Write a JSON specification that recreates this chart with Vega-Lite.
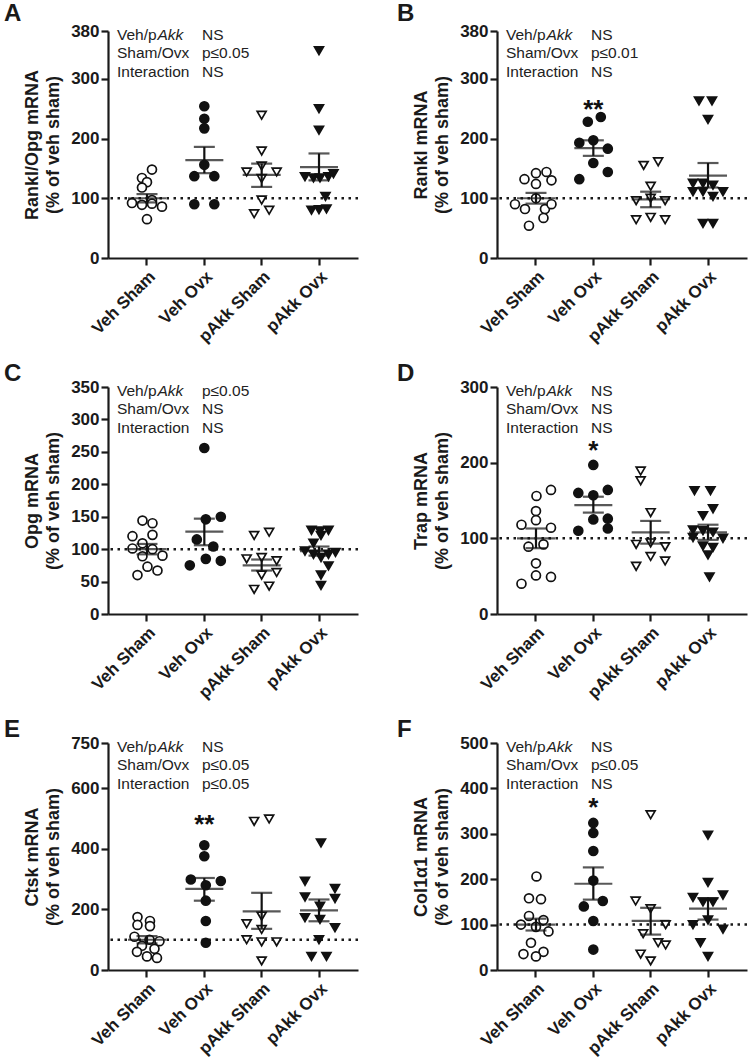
{
"$schema":"https://vega.github.io/schema/vega-lite/v6.json",
"background":"white",
"padding":{"left":4,"top":2,"right":0,"bottom":0},
"datasets":{
"pts":[
{"panel":"A","group":"Veh Sham","value":148,"swarm":1},{"panel":"A","group":"Veh Sham","value":134,"swarm":-1},{"panel":"A","group":"Veh Sham","value":127,"swarm":0},{"panel":"A","group":"Veh Sham","value":118,"swarm":-1},{"panel":"A","group":"Veh Sham","value":97,"swarm":1},{"panel":"A","group":"Veh Sham","value":92,"swarm":-3},{"panel":"A","group":"Veh Sham","value":89,"swarm":-1},{"panel":"A","group":"Veh Sham","value":91,"swarm":1},{"panel":"A","group":"Veh Sham","value":86,"swarm":3},{"panel":"A","group":"Veh Sham","value":65,"swarm":0},
{"panel":"A","group":"Veh Ovx","value":254,"swarm":0},{"panel":"A","group":"Veh Ovx","value":233,"swarm":0},{"panel":"A","group":"Veh Ovx","value":217,"swarm":0},{"panel":"A","group":"Veh Ovx","value":156,"swarm":0},{"panel":"A","group":"Veh Ovx","value":137,"swarm":-2},{"panel":"A","group":"Veh Ovx","value":137,"swarm":2},{"panel":"A","group":"Veh Ovx","value":90,"swarm":-2},{"panel":"A","group":"Veh Ovx","value":90,"swarm":2},
{"panel":"A","group":"pAkk Sham","value":239,"swarm":0},{"panel":"A","group":"pAkk Sham","value":179,"swarm":0},{"panel":"A","group":"pAkk Sham","value":154,"swarm":0},{"panel":"A","group":"pAkk Sham","value":144,"swarm":-3},{"panel":"A","group":"pAkk Sham","value":144,"swarm":3},{"panel":"A","group":"pAkk Sham","value":133,"swarm":0},{"panel":"A","group":"pAkk Sham","value":97,"swarm":0},{"panel":"A","group":"pAkk Sham","value":74,"swarm":-1.5},{"panel":"A","group":"pAkk Sham","value":80,"swarm":1.5},
{"panel":"A","group":"pAkk Ovx","value":347,"swarm":0},{"panel":"A","group":"pAkk Ovx","value":250,"swarm":0},{"panel":"A","group":"pAkk Ovx","value":214,"swarm":0},{"panel":"A","group":"pAkk Ovx","value":136,"swarm":-2.8},{"panel":"A","group":"pAkk Ovx","value":134,"swarm":-1.1},{"panel":"A","group":"pAkk Ovx","value":134,"swarm":0.2},{"panel":"A","group":"pAkk Ovx","value":136,"swarm":1.9},{"panel":"A","group":"pAkk Ovx","value":141,"swarm":2.9},{"panel":"A","group":"pAkk Ovx","value":103,"swarm":1.3},{"panel":"A","group":"pAkk Ovx","value":80,"swarm":-1.5},{"panel":"A","group":"pAkk Ovx","value":81,"swarm":0},{"panel":"A","group":"pAkk Ovx","value":82,"swarm":1.5},
{"panel":"B","group":"Veh Sham","value":132,"swarm":-2.3},{"panel":"B","group":"Veh Sham","value":142,"swarm":0},{"panel":"B","group":"Veh Sham","value":144,"swarm":2.1},{"panel":"B","group":"Veh Sham","value":130,"swarm":3.1},{"panel":"B","group":"Veh Sham","value":124,"swarm":0},{"panel":"B","group":"Veh Sham","value":90,"swarm":-4.2},{"panel":"B","group":"Veh Sham","value":82,"swarm":-2.2},{"panel":"B","group":"Veh Sham","value":100,"swarm":0},{"panel":"B","group":"Veh Sham","value":82,"swarm":1.8},{"panel":"B","group":"Veh Sham","value":90,"swarm":3.1},{"panel":"B","group":"Veh Sham","value":67,"swarm":1.5},{"panel":"B","group":"Veh Sham","value":54,"swarm":-1.4},
{"panel":"B","group":"Veh Ovx","value":228,"swarm":-1.1},{"panel":"B","group":"Veh Ovx","value":236,"swarm":1.5},{"panel":"B","group":"Veh Ovx","value":193,"swarm":-2.8},{"panel":"B","group":"Veh Ovx","value":197,"swarm":0},{"panel":"B","group":"Veh Ovx","value":183,"swarm":2.9},{"panel":"B","group":"Veh Ovx","value":159,"swarm":0},{"panel":"B","group":"Veh Ovx","value":144,"swarm":2.9},{"panel":"B","group":"Veh Ovx","value":132,"swarm":-2.8},
{"panel":"B","group":"pAkk Sham","value":155,"swarm":-1.4},{"panel":"B","group":"pAkk Sham","value":161,"swarm":1.5},{"panel":"B","group":"pAkk Sham","value":120,"swarm":0},{"panel":"B","group":"pAkk Sham","value":96,"swarm":-2.9},{"panel":"B","group":"pAkk Sham","value":100,"swarm":0},{"panel":"B","group":"pAkk Sham","value":96,"swarm":2.9},{"panel":"B","group":"pAkk Sham","value":64,"swarm":-2.9},{"panel":"B","group":"pAkk Sham","value":68,"swarm":0},{"panel":"B","group":"pAkk Sham","value":64,"swarm":2.9},
{"panel":"B","group":"pAkk Ovx","value":263,"swarm":-1.8},{"panel":"B","group":"pAkk Ovx","value":263,"swarm":0.8},{"panel":"B","group":"pAkk Ovx","value":232,"swarm":0},{"panel":"B","group":"pAkk Ovx","value":125,"swarm":-3},{"panel":"B","group":"pAkk Ovx","value":125,"swarm":-1},{"panel":"B","group":"pAkk Ovx","value":122,"swarm":1},{"panel":"B","group":"pAkk Ovx","value":111,"swarm":-3},{"panel":"B","group":"pAkk Ovx","value":111,"swarm":-1},{"panel":"B","group":"pAkk Ovx","value":103,"swarm":1},{"panel":"B","group":"pAkk Ovx","value":111,"swarm":3},{"panel":"B","group":"pAkk Ovx","value":58,"swarm":-1},{"panel":"B","group":"pAkk Ovx","value":58,"swarm":1},
{"panel":"C","group":"Veh Sham","value":144,"swarm":-0.9},{"panel":"C","group":"Veh Sham","value":140,"swarm":1.1},{"panel":"C","group":"Veh Sham","value":120,"swarm":-2.9},{"panel":"C","group":"Veh Sham","value":122,"swarm":1.1},{"panel":"C","group":"Veh Sham","value":109,"swarm":-0.9},{"panel":"C","group":"Veh Sham","value":101,"swarm":-2.9},{"panel":"C","group":"Veh Sham","value":100,"swarm":1.1},{"panel":"C","group":"Veh Sham","value":89,"swarm":-0.9},{"panel":"C","group":"Veh Sham","value":90,"swarm":3.1},{"panel":"C","group":"Veh Sham","value":73,"swarm":0.1},{"panel":"C","group":"Veh Sham","value":67,"swarm":2.1},{"panel":"C","group":"Veh Sham","value":60,"swarm":-1.9},
{"panel":"C","group":"Veh Ovx","value":256,"swarm":0},{"panel":"C","group":"Veh Ovx","value":146,"swarm":0.3},{"panel":"C","group":"Veh Ovx","value":150,"swarm":3.3},{"panel":"C","group":"Veh Ovx","value":115,"swarm":-1.5},{"panel":"C","group":"Veh Ovx","value":104,"swarm":1.8},{"panel":"C","group":"Veh Ovx","value":75,"swarm":-2.9},{"panel":"C","group":"Veh Ovx","value":85,"swarm":0.3},{"panel":"C","group":"Veh Ovx","value":82,"swarm":3.3},
{"panel":"C","group":"pAkk Sham","value":121,"swarm":-1.5},{"panel":"C","group":"pAkk Sham","value":126,"swarm":1.5},{"panel":"C","group":"pAkk Sham","value":85,"swarm":-3},{"panel":"C","group":"pAkk Sham","value":87,"swarm":0},{"panel":"C","group":"pAkk Sham","value":82,"swarm":3},{"panel":"C","group":"pAkk Sham","value":60,"swarm":0},{"panel":"C","group":"pAkk Sham","value":64,"swarm":3},{"panel":"C","group":"pAkk Sham","value":38,"swarm":-1.5},{"panel":"C","group":"pAkk Sham","value":43,"swarm":1.5},
{"panel":"C","group":"pAkk Ovx","value":129,"swarm":-1.5},{"panel":"C","group":"pAkk Ovx","value":128,"swarm":0.2},{"panel":"C","group":"pAkk Ovx","value":129,"swarm":1.9},{"panel":"C","group":"pAkk Ovx","value":109,"swarm":-1.1},{"panel":"C","group":"pAkk Ovx","value":121,"swarm":0.4},{"panel":"C","group":"pAkk Ovx","value":97,"swarm":-2.8},{"panel":"C","group":"pAkk Ovx","value":92,"swarm":-1.1},{"panel":"C","group":"pAkk Ovx","value":87,"swarm":0.4},{"panel":"C","group":"pAkk Ovx","value":92,"swarm":1.9},{"panel":"C","group":"pAkk Ovx","value":95,"swarm":3.3},{"panel":"C","group":"pAkk Ovx","value":74,"swarm":1.9},{"panel":"C","group":"pAkk Ovx","value":60,"swarm":0.4},{"panel":"C","group":"pAkk Ovx","value":44,"swarm":0.4},
{"panel":"D","group":"Veh Sham","value":164,"swarm":3},{"panel":"D","group":"Veh Sham","value":156,"swarm":0.1},{"panel":"D","group":"Veh Sham","value":136,"swarm":0},{"panel":"D","group":"Veh Sham","value":124,"swarm":0},{"panel":"D","group":"Veh Sham","value":118,"swarm":-2.9},{"panel":"D","group":"Veh Sham","value":114,"swarm":3},{"panel":"D","group":"Veh Sham","value":89,"swarm":-1.5},{"panel":"D","group":"Veh Sham","value":92,"swarm":1.5},{"panel":"D","group":"Veh Sham","value":67,"swarm":0},{"panel":"D","group":"Veh Sham","value":40,"swarm":-2.9},{"panel":"D","group":"Veh Sham","value":51,"swarm":0},{"panel":"D","group":"Veh Sham","value":49,"swarm":3},
{"panel":"D","group":"Veh Ovx","value":197,"swarm":0},{"panel":"D","group":"Veh Ovx","value":160,"swarm":-3},{"panel":"D","group":"Veh Ovx","value":157,"swarm":0},{"panel":"D","group":"Veh Ovx","value":164,"swarm":2.9},{"panel":"D","group":"Veh Ovx","value":125,"swarm":0},{"panel":"D","group":"Veh Ovx","value":126,"swarm":2.9},{"panel":"D","group":"Veh Ovx","value":110,"swarm":-3},{"panel":"D","group":"Veh Ovx","value":113,"swarm":2.9},
{"panel":"D","group":"pAkk Sham","value":189,"swarm":-2},{"panel":"D","group":"pAkk Sham","value":176,"swarm":-2},{"panel":"D","group":"pAkk Sham","value":134,"swarm":0},{"panel":"D","group":"pAkk Sham","value":92,"swarm":-2.9},{"panel":"D","group":"pAkk Sham","value":94,"swarm":0},{"panel":"D","group":"pAkk Sham","value":89,"swarm":2.9},{"panel":"D","group":"pAkk Sham","value":76,"swarm":0},{"panel":"D","group":"pAkk Sham","value":63,"swarm":-2.9},{"panel":"D","group":"pAkk Sham","value":70,"swarm":2.9},
{"panel":"D","group":"pAkk Ovx","value":163,"swarm":-2.7},{"panel":"D","group":"pAkk Ovx","value":163,"swarm":0.5},{"panel":"D","group":"pAkk Ovx","value":139,"swarm":1},{"panel":"D","group":"pAkk Ovx","value":130,"swarm":-1},{"panel":"D","group":"pAkk Ovx","value":111,"swarm":-3},{"panel":"D","group":"pAkk Ovx","value":110,"swarm":-1},{"panel":"D","group":"pAkk Ovx","value":108,"swarm":1},{"panel":"D","group":"pAkk Ovx","value":100,"swarm":3},{"panel":"D","group":"pAkk Ovx","value":101,"swarm":-3},{"panel":"D","group":"pAkk Ovx","value":90,"swarm":-1},{"panel":"D","group":"pAkk Ovx","value":88,"swarm":1},{"panel":"D","group":"pAkk Ovx","value":78,"swarm":0},{"panel":"D","group":"pAkk Ovx","value":49,"swarm":0.3},
{"panel":"E","group":"Veh Sham","value":175,"swarm":-1.9},{"panel":"E","group":"Veh Sham","value":162,"swarm":0.6},{"panel":"E","group":"Veh Sham","value":149,"swarm":-1.9},{"panel":"E","group":"Veh Sham","value":145,"swarm":0.6},{"panel":"E","group":"Veh Sham","value":110,"swarm":-2.5},{"panel":"E","group":"Veh Sham","value":100,"swarm":0.5},{"panel":"E","group":"Veh Sham","value":95,"swarm":2.5},{"panel":"E","group":"Veh Sham","value":80,"swarm":-1},{"panel":"E","group":"Veh Sham","value":70,"swarm":1.5},{"panel":"E","group":"Veh Sham","value":60,"swarm":-2},{"panel":"E","group":"Veh Sham","value":45,"swarm":0},{"panel":"E","group":"Veh Sham","value":40,"swarm":2},
{"panel":"E","group":"Veh Ovx","value":412,"swarm":0},{"panel":"E","group":"Veh Ovx","value":376,"swarm":0},{"panel":"E","group":"Veh Ovx","value":299,"swarm":-2.7},{"panel":"E","group":"Veh Ovx","value":294,"swarm":3.3},{"panel":"E","group":"Veh Ovx","value":280,"swarm":0.3},{"panel":"E","group":"Veh Ovx","value":229,"swarm":0.3},{"panel":"E","group":"Veh Ovx","value":162,"swarm":0.3},{"panel":"E","group":"Veh Ovx","value":90,"swarm":0.3},
{"panel":"E","group":"pAkk Sham","value":491,"swarm":-1.5},{"panel":"E","group":"pAkk Sham","value":499,"swarm":1.5},{"panel":"E","group":"pAkk Sham","value":178,"swarm":0},{"panel":"E","group":"pAkk Sham","value":153,"swarm":-3},{"panel":"E","group":"pAkk Sham","value":134,"swarm":0},{"panel":"E","group":"pAkk Sham","value":100,"swarm":-3},{"panel":"E","group":"pAkk Sham","value":93,"swarm":0},{"panel":"E","group":"pAkk Sham","value":93,"swarm":3},{"panel":"E","group":"pAkk Sham","value":30,"swarm":0},
{"panel":"E","group":"pAkk Ovx","value":420,"swarm":0.4},{"panel":"E","group":"pAkk Ovx","value":293,"swarm":-2.8},{"panel":"E","group":"pAkk Ovx","value":269,"swarm":3.2},{"panel":"E","group":"pAkk Ovx","value":241,"swarm":-2.8},{"panel":"E","group":"pAkk Ovx","value":236,"swarm":3.2},{"panel":"E","group":"pAkk Ovx","value":211,"swarm":0.2},{"panel":"E","group":"pAkk Ovx","value":173,"swarm":-2.8},{"panel":"E","group":"pAkk Ovx","value":167,"swarm":0.2},{"panel":"E","group":"pAkk Ovx","value":140,"swarm":3.2},{"panel":"E","group":"pAkk Ovx","value":100,"swarm":0},{"panel":"E","group":"pAkk Ovx","value":45,"swarm":-1.5},{"panel":"E","group":"pAkk Ovx","value":45,"swarm":1.5},
{"panel":"F","group":"Veh Sham","value":206,"swarm":0.1},{"panel":"F","group":"Veh Sham","value":158,"swarm":-1.4},{"panel":"F","group":"Veh Sham","value":156,"swarm":1},{"panel":"F","group":"Veh Sham","value":119,"swarm":-1.4},{"panel":"F","group":"Veh Sham","value":110,"swarm":1.5},{"panel":"F","group":"Veh Sham","value":100,"swarm":-3},{"panel":"F","group":"Veh Sham","value":95,"swarm":0},{"panel":"F","group":"Veh Sham","value":85,"swarm":2.5},{"panel":"F","group":"Veh Sham","value":60,"swarm":-1},{"panel":"F","group":"Veh Sham","value":40,"swarm":1.5},{"panel":"F","group":"Veh Sham","value":35,"swarm":-2.5},{"panel":"F","group":"Veh Sham","value":30,"swarm":0},
{"panel":"F","group":"Veh Ovx","value":324,"swarm":0},{"panel":"F","group":"Veh Ovx","value":302,"swarm":0},{"panel":"F","group":"Veh Ovx","value":262,"swarm":0},{"panel":"F","group":"Veh Ovx","value":197,"swarm":0},{"panel":"F","group":"Veh Ovx","value":152,"swarm":1.9},{"panel":"F","group":"Veh Ovx","value":140,"swarm":-1.9},{"panel":"F","group":"Veh Ovx","value":108,"swarm":0},{"panel":"F","group":"Veh Ovx","value":45,"swarm":0},
{"panel":"F","group":"pAkk Sham","value":342,"swarm":0},{"panel":"F","group":"pAkk Sham","value":152,"swarm":-3},{"panel":"F","group":"pAkk Sham","value":135,"swarm":0},{"panel":"F","group":"pAkk Sham","value":100,"swarm":3},{"panel":"F","group":"pAkk Sham","value":80,"swarm":-1.5},{"panel":"F","group":"pAkk Sham","value":60,"swarm":1.5},{"panel":"F","group":"pAkk Sham","value":55,"swarm":3},{"panel":"F","group":"pAkk Sham","value":35,"swarm":-2},{"panel":"F","group":"pAkk Sham","value":20,"swarm":0},
{"panel":"F","group":"pAkk Ovx","value":297,"swarm":0},{"panel":"F","group":"pAkk Ovx","value":193,"swarm":0},{"panel":"F","group":"pAkk Ovx","value":165,"swarm":3},{"panel":"F","group":"pAkk Ovx","value":160,"swarm":-3},{"panel":"F","group":"pAkk Ovx","value":150,"swarm":-1},{"panel":"F","group":"pAkk Ovx","value":150,"swarm":1},{"panel":"F","group":"pAkk Ovx","value":110,"swarm":0},{"panel":"F","group":"pAkk Ovx","value":100,"swarm":-3},{"panel":"F","group":"pAkk Ovx","value":90,"swarm":3},{"panel":"F","group":"pAkk Ovx","value":60,"swarm":-1.5},{"panel":"F","group":"pAkk Ovx","value":30,"swarm":0}
],
"summ":[
{"panel":"A","group":"Veh Sham","mean":100,"lo":93,"hi":107},{"panel":"A","group":"Veh Ovx","mean":164,"lo":142,"hi":186},{"panel":"A","group":"pAkk Sham","mean":139,"lo":119,"hi":158},{"panel":"A","group":"pAkk Ovx","mean":152,"lo":130,"hi":175},
{"panel":"B","group":"Veh Sham","mean":100,"lo":91,"hi":109},{"panel":"B","group":"Veh Ovx","mean":184,"lo":171,"hi":197},{"panel":"B","group":"pAkk Sham","mean":98,"lo":85,"hi":111},{"panel":"B","group":"pAkk Ovx","mean":138,"lo":118,"hi":159},
{"panel":"C","group":"Veh Sham","mean":100,"lo":92,"hi":108},{"panel":"C","group":"Veh Ovx","mean":127,"lo":106,"hi":147},{"panel":"C","group":"pAkk Sham","mean":75,"lo":67,"hi":84},{"panel":"C","group":"pAkk Ovx","mean":97,"lo":90,"hi":104},
{"panel":"D","group":"Veh Sham","mean":100,"lo":87,"hi":113},{"panel":"D","group":"Veh Ovx","mean":144,"lo":134,"hi":155},{"panel":"D","group":"pAkk Sham","mean":108,"lo":93,"hi":123},{"panel":"D","group":"pAkk Ovx","mean":108,"lo":98,"hi":118},
{"panel":"E","group":"Veh Sham","mean":100,"lo":88,"hi":112},{"panel":"E","group":"Veh Ovx","mean":268,"lo":229,"hi":304},{"panel":"E","group":"pAkk Sham","mean":194,"lo":136,"hi":255},{"panel":"E","group":"pAkk Ovx","mean":197,"lo":161,"hi":233},
{"panel":"F","group":"Veh Sham","mean":100,"lo":87,"hi":113},{"panel":"F","group":"Veh Ovx","mean":190,"lo":155,"hi":226},{"panel":"F","group":"pAkk Sham","mean":108,"lo":78,"hi":137},{"panel":"F","group":"pAkk Ovx","mean":135,"lo":111,"hi":158}
],
"stats":[
{"panel":"A","line":1,"pre":"Veh/p","ital":"Akk","stat":"NS"},{"panel":"A","line":2,"pre":"Sham/Ovx","ital":"","stat":"p≤0.05"},{"panel":"A","line":3,"pre":"Interaction","ital":"","stat":"NS"},
{"panel":"B","line":1,"pre":"Veh/p","ital":"Akk","stat":"NS"},{"panel":"B","line":2,"pre":"Sham/Ovx","ital":"","stat":"p≤0.01"},{"panel":"B","line":3,"pre":"Interaction","ital":"","stat":"NS"},
{"panel":"C","line":1,"pre":"Veh/p","ital":"Akk","stat":"p≤0.05"},{"panel":"C","line":2,"pre":"Sham/Ovx","ital":"","stat":"NS"},{"panel":"C","line":3,"pre":"Interaction","ital":"","stat":"NS"},
{"panel":"D","line":1,"pre":"Veh/p","ital":"Akk","stat":"NS"},{"panel":"D","line":2,"pre":"Sham/Ovx","ital":"","stat":"NS"},{"panel":"D","line":3,"pre":"Interaction","ital":"","stat":"NS"},
{"panel":"E","line":1,"pre":"Veh/p","ital":"Akk","stat":"NS"},{"panel":"E","line":2,"pre":"Sham/Ovx","ital":"","stat":"p≤0.05"},{"panel":"E","line":3,"pre":"Interaction","ital":"","stat":"p≤0.05"},
{"panel":"F","line":1,"pre":"Veh/p","ital":"Akk","stat":"NS"},{"panel":"F","line":2,"pre":"Sham/Ovx","ital":"","stat":"p≤0.05"},{"panel":"F","line":3,"pre":"Interaction","ital":"","stat":"NS"}
],
"sig":[
{"panel":"B","group":"Veh Ovx","label":"**","at":258},{"panel":"D","group":"Veh Ovx","label":"*","at":224},{"panel":"E","group":"Veh Ovx","label":"**","at":500},{"panel":"F","group":"Veh Ovx","label":"*","at":371}
],
"ref":[{"ref":100}]
},
"columns":2,
"spacing":{"row":129,"column":139},
"bounds":"flush",
"concat":[
{"width":250,"height":227,"title":{"text":"A","dx":-104,"offset":-4},
"layer":[
{"layer":[
{"data":{"name":"ref"},"mark":{"type":"rule","color":"#1a1a1a","strokeWidth":2.5,"strokeDash":[2.5,4.5]},"encoding":{"y":{"field":"ref","type":"quantitative"}}},
{"data":{"name":"pts"},"transform":[{"filter":"datum.panel==='A'"}],"mark":{"type":"point","filled":true,"stroke":"#111111","strokeWidth":1.7,"opacity":1},
"encoding":{"x":{"field":"group","type":"nominal","title":null,"scale":{"domain":["Veh Sham","Veh Ovx","pAkk Sham","pAkk Ovx"],"paddingInner":0,"paddingOuter":0.18}},
"xOffset":{"field":"swarm","type":"quantitative","scale":{"domain":[-5.73,5.73],"range":[0,57.3]}},
"y":{"field":"value","type":"quantitative","title":["Rankl/Opg mRNA","(% of veh sham)"],"scale":{"domain":[0,380],"nice":false},"axis":{"values":[0,100,200,300,380],"tickCount":12,"labelOverlap":false}},
"shape":{"field":"group","type":"nominal","scale":{"domain":["Veh Sham","Veh Ovx","pAkk Sham","pAkk Ovx"],"range":["circle","circle","triangle-down","triangle-down"]},"legend":null},
"fill":{"field":"group","type":"nominal","scale":{"domain":["Veh Sham","Veh Ovx","pAkk Sham","pAkk Ovx"],"range":["#ffffff","#111111","#ffffff","#111111"]},"legend":null},
"size":{"field":"group","type":"ordinal","scale":{"domain":["Veh Sham","Veh Ovx","pAkk Sham","pAkk Ovx"],"range":[80,80,110,110]},"legend":null}}},
{"data":{"name":"summ"},"transform":[{"filter":"datum.panel==='A'"}],"mark":{"type":"rule","color":"#111111","strokeWidth":2.2},"encoding":{"x":{"field":"group","type":"nominal","title":null},"y":{"field":"lo","type":"quantitative"},"y2":{"field":"hi"}}},
{"data":{"name":"summ"},"transform":[{"filter":"datum.panel==='A'"}],"mark":{"type":"tick","color":"#111111","size":38,"thickness":2.2},"encoding":{"x":{"field":"group","type":"nominal","title":null},"y":{"field":"mean","type":"quantitative"}}},
{"data":{"name":"summ"},"transform":[{"filter":"datum.panel==='A'"}],"mark":{"type":"tick","color":"#111111","size":21,"thickness":2.2},"encoding":{"x":{"field":"group","type":"nominal","title":null},"y":{"field":"lo","type":"quantitative"}}},
{"data":{"name":"summ"},"transform":[{"filter":"datum.panel==='A'"}],"mark":{"type":"tick","color":"#111111","size":21,"thickness":2.2},"encoding":{"x":{"field":"group","type":"nominal","title":null},"y":{"field":"hi","type":"quantitative"}}}
]},
{"data":{"name":"stats"},"transform":[{"filter":"datum.panel==='A'"}],
"encoding":{"x":{"datum":"Veh Sham","type":"nominal","title":null},"y":{"field":"line","type":"quantitative","scale":{"domain":[0.796,13.0],"reverse":true,"zero":false,"nice":false},"axis":null}},
"layer":[
{"mark":{"type":"text","align":"left","baseline":"middle","fontSize":15.5,"dx":-30},"encoding":{"text":{"field":"pre"}}},
{"mark":{"type":"text","align":"left","baseline":"middle","fontSize":15.5,"dx":10.5,"fontStyle":"italic"},"encoding":{"text":{"field":"ital"}}},
{"mark":{"type":"text","align":"left","baseline":"middle","fontSize":15.5,"dx":55},"encoding":{"text":{"field":"stat"}}}
]}
],
"resolve":{"scale":{"y":"independent"}}},
{"width":250,"height":227,"title":{"text":"B","dx":-100,"offset":-4},
"layer":[
{"layer":[
{"data":{"name":"ref"},"mark":{"type":"rule","color":"#1a1a1a","strokeWidth":2.5,"strokeDash":[2.5,4.5]},"encoding":{"y":{"field":"ref","type":"quantitative"}}},
{"data":{"name":"pts"},"transform":[{"filter":"datum.panel==='B'"}],"mark":{"type":"point","filled":true,"stroke":"#111111","strokeWidth":1.7,"opacity":1},
"encoding":{"x":{"field":"group","type":"nominal","title":null,"scale":{"domain":["Veh Sham","Veh Ovx","pAkk Sham","pAkk Ovx"],"paddingInner":0,"paddingOuter":0.18}},
"xOffset":{"field":"swarm","type":"quantitative","scale":{"domain":[-5.73,5.73],"range":[0,57.3]}},
"y":{"field":"value","type":"quantitative","title":["Rankl mRNA","(% of veh sham)"],"scale":{"domain":[0,380],"nice":false},"axis":{"values":[0,100,200,300,380],"tickCount":12,"labelOverlap":false}},
"shape":{"field":"group","type":"nominal","scale":{"domain":["Veh Sham","Veh Ovx","pAkk Sham","pAkk Ovx"],"range":["circle","circle","triangle-down","triangle-down"]},"legend":null},
"fill":{"field":"group","type":"nominal","scale":{"domain":["Veh Sham","Veh Ovx","pAkk Sham","pAkk Ovx"],"range":["#ffffff","#111111","#ffffff","#111111"]},"legend":null},
"size":{"field":"group","type":"ordinal","scale":{"domain":["Veh Sham","Veh Ovx","pAkk Sham","pAkk Ovx"],"range":[80,80,110,110]},"legend":null}}},
{"data":{"name":"summ"},"transform":[{"filter":"datum.panel==='B'"}],"mark":{"type":"rule","color":"#111111","strokeWidth":2.2},"encoding":{"x":{"field":"group","type":"nominal","title":null},"y":{"field":"lo","type":"quantitative"},"y2":{"field":"hi"}}},
{"data":{"name":"summ"},"transform":[{"filter":"datum.panel==='B'"}],"mark":{"type":"tick","color":"#111111","size":38,"thickness":2.2},"encoding":{"x":{"field":"group","type":"nominal","title":null},"y":{"field":"mean","type":"quantitative"}}},
{"data":{"name":"summ"},"transform":[{"filter":"datum.panel==='B'"}],"mark":{"type":"tick","color":"#111111","size":21,"thickness":2.2},"encoding":{"x":{"field":"group","type":"nominal","title":null},"y":{"field":"lo","type":"quantitative"}}},
{"data":{"name":"summ"},"transform":[{"filter":"datum.panel==='B'"}],"mark":{"type":"tick","color":"#111111","size":21,"thickness":2.2},"encoding":{"x":{"field":"group","type":"nominal","title":null},"y":{"field":"hi","type":"quantitative"}}},
{"data":{"name":"sig"},"transform":[{"filter":"datum.panel==='B'"}],"mark":{"type":"text","fontSize":26,"fontWeight":"bold","baseline":"middle","dy":6.5,"color":"#111111"},"encoding":{"x":{"field":"group","type":"nominal","title":null},"y":{"field":"at","type":"quantitative"},"text":{"field":"label"}}}
]},
{"data":{"name":"stats"},"transform":[{"filter":"datum.panel==='B'"}],
"encoding":{"x":{"datum":"Veh Sham","type":"nominal","title":null},"y":{"field":"line","type":"quantitative","scale":{"domain":[0.796,13.0],"reverse":true,"zero":false,"nice":false},"axis":null}},
"layer":[
{"mark":{"type":"text","align":"left","baseline":"middle","fontSize":15.5,"dx":-30},"encoding":{"text":{"field":"pre"}}},
{"mark":{"type":"text","align":"left","baseline":"middle","fontSize":15.5,"dx":10.5,"fontStyle":"italic"},"encoding":{"text":{"field":"ital"}}},
{"mark":{"type":"text","align":"left","baseline":"middle","fontSize":15.5,"dx":55},"encoding":{"text":{"field":"stat"}}}
]}
],
"resolve":{"scale":{"y":"independent"}}},
{"width":250,"height":227,"title":{"text":"C","dx":-104},
"layer":[
{"layer":[
{"data":{"name":"ref"},"mark":{"type":"rule","color":"#1a1a1a","strokeWidth":2.5,"strokeDash":[2.5,4.5]},"encoding":{"y":{"field":"ref","type":"quantitative"}}},
{"data":{"name":"pts"},"transform":[{"filter":"datum.panel==='C'"}],"mark":{"type":"point","filled":true,"stroke":"#111111","strokeWidth":1.7,"opacity":1},
"encoding":{"x":{"field":"group","type":"nominal","title":null,"scale":{"domain":["Veh Sham","Veh Ovx","pAkk Sham","pAkk Ovx"],"paddingInner":0,"paddingOuter":0.18}},
"xOffset":{"field":"swarm","type":"quantitative","scale":{"domain":[-5.73,5.73],"range":[0,57.3]}},
"y":{"field":"value","type":"quantitative","title":["Opg mRNA","(% of veh sham)"],"scale":{"domain":[0,350],"nice":false},"axis":{"values":[0,50,100,150,200,250,300,350],"tickCount":12,"labelOverlap":false}},
"shape":{"field":"group","type":"nominal","scale":{"domain":["Veh Sham","Veh Ovx","pAkk Sham","pAkk Ovx"],"range":["circle","circle","triangle-down","triangle-down"]},"legend":null},
"fill":{"field":"group","type":"nominal","scale":{"domain":["Veh Sham","Veh Ovx","pAkk Sham","pAkk Ovx"],"range":["#ffffff","#111111","#ffffff","#111111"]},"legend":null},
"size":{"field":"group","type":"ordinal","scale":{"domain":["Veh Sham","Veh Ovx","pAkk Sham","pAkk Ovx"],"range":[80,80,110,110]},"legend":null}}},
{"data":{"name":"summ"},"transform":[{"filter":"datum.panel==='C'"}],"mark":{"type":"rule","color":"#111111","strokeWidth":2.2},"encoding":{"x":{"field":"group","type":"nominal","title":null},"y":{"field":"lo","type":"quantitative"},"y2":{"field":"hi"}}},
{"data":{"name":"summ"},"transform":[{"filter":"datum.panel==='C'"}],"mark":{"type":"tick","color":"#111111","size":38,"thickness":2.2},"encoding":{"x":{"field":"group","type":"nominal","title":null},"y":{"field":"mean","type":"quantitative"}}},
{"data":{"name":"summ"},"transform":[{"filter":"datum.panel==='C'"}],"mark":{"type":"tick","color":"#111111","size":21,"thickness":2.2},"encoding":{"x":{"field":"group","type":"nominal","title":null},"y":{"field":"lo","type":"quantitative"}}},
{"data":{"name":"summ"},"transform":[{"filter":"datum.panel==='C'"}],"mark":{"type":"tick","color":"#111111","size":21,"thickness":2.2},"encoding":{"x":{"field":"group","type":"nominal","title":null},"y":{"field":"hi","type":"quantitative"}}}
]},
{"data":{"name":"stats"},"transform":[{"filter":"datum.panel==='C'"}],
"encoding":{"x":{"datum":"Veh Sham","type":"nominal","title":null},"y":{"field":"line","type":"quantitative","scale":{"domain":[0.796,13.0],"reverse":true,"zero":false,"nice":false},"axis":null}},
"layer":[
{"mark":{"type":"text","align":"left","baseline":"middle","fontSize":15.5,"dx":-30},"encoding":{"text":{"field":"pre"}}},
{"mark":{"type":"text","align":"left","baseline":"middle","fontSize":15.5,"dx":10.5,"fontStyle":"italic"},"encoding":{"text":{"field":"ital"}}},
{"mark":{"type":"text","align":"left","baseline":"middle","fontSize":15.5,"dx":55},"encoding":{"text":{"field":"stat"}}}
]}
],
"resolve":{"scale":{"y":"independent"}}},
{"width":250,"height":227,"title":{"text":"D","dx":-100},
"layer":[
{"layer":[
{"data":{"name":"ref"},"mark":{"type":"rule","color":"#1a1a1a","strokeWidth":2.5,"strokeDash":[2.5,4.5]},"encoding":{"y":{"field":"ref","type":"quantitative"}}},
{"data":{"name":"pts"},"transform":[{"filter":"datum.panel==='D'"}],"mark":{"type":"point","filled":true,"stroke":"#111111","strokeWidth":1.7,"opacity":1},
"encoding":{"x":{"field":"group","type":"nominal","title":null,"scale":{"domain":["Veh Sham","Veh Ovx","pAkk Sham","pAkk Ovx"],"paddingInner":0,"paddingOuter":0.18}},
"xOffset":{"field":"swarm","type":"quantitative","scale":{"domain":[-5.73,5.73],"range":[0,57.3]}},
"y":{"field":"value","type":"quantitative","title":["Trap mRNA","(% of veh sham)"],"scale":{"domain":[0,300],"nice":false},"axis":{"values":[0,100,200,300],"tickCount":12,"labelOverlap":false}},
"shape":{"field":"group","type":"nominal","scale":{"domain":["Veh Sham","Veh Ovx","pAkk Sham","pAkk Ovx"],"range":["circle","circle","triangle-down","triangle-down"]},"legend":null},
"fill":{"field":"group","type":"nominal","scale":{"domain":["Veh Sham","Veh Ovx","pAkk Sham","pAkk Ovx"],"range":["#ffffff","#111111","#ffffff","#111111"]},"legend":null},
"size":{"field":"group","type":"ordinal","scale":{"domain":["Veh Sham","Veh Ovx","pAkk Sham","pAkk Ovx"],"range":[80,80,110,110]},"legend":null}}},
{"data":{"name":"summ"},"transform":[{"filter":"datum.panel==='D'"}],"mark":{"type":"rule","color":"#111111","strokeWidth":2.2},"encoding":{"x":{"field":"group","type":"nominal","title":null},"y":{"field":"lo","type":"quantitative"},"y2":{"field":"hi"}}},
{"data":{"name":"summ"},"transform":[{"filter":"datum.panel==='D'"}],"mark":{"type":"tick","color":"#111111","size":38,"thickness":2.2},"encoding":{"x":{"field":"group","type":"nominal","title":null},"y":{"field":"mean","type":"quantitative"}}},
{"data":{"name":"summ"},"transform":[{"filter":"datum.panel==='D'"}],"mark":{"type":"tick","color":"#111111","size":21,"thickness":2.2},"encoding":{"x":{"field":"group","type":"nominal","title":null},"y":{"field":"lo","type":"quantitative"}}},
{"data":{"name":"summ"},"transform":[{"filter":"datum.panel==='D'"}],"mark":{"type":"tick","color":"#111111","size":21,"thickness":2.2},"encoding":{"x":{"field":"group","type":"nominal","title":null},"y":{"field":"hi","type":"quantitative"}}},
{"data":{"name":"sig"},"transform":[{"filter":"datum.panel==='D'"}],"mark":{"type":"text","fontSize":26,"fontWeight":"bold","baseline":"middle","dy":6.5,"color":"#111111"},"encoding":{"x":{"field":"group","type":"nominal","title":null},"y":{"field":"at","type":"quantitative"},"text":{"field":"label"}}}
]},
{"data":{"name":"stats"},"transform":[{"filter":"datum.panel==='D'"}],
"encoding":{"x":{"datum":"Veh Sham","type":"nominal","title":null},"y":{"field":"line","type":"quantitative","scale":{"domain":[0.796,13.0],"reverse":true,"zero":false,"nice":false},"axis":null}},
"layer":[
{"mark":{"type":"text","align":"left","baseline":"middle","fontSize":15.5,"dx":-30},"encoding":{"text":{"field":"pre"}}},
{"mark":{"type":"text","align":"left","baseline":"middle","fontSize":15.5,"dx":10.5,"fontStyle":"italic"},"encoding":{"text":{"field":"ital"}}},
{"mark":{"type":"text","align":"left","baseline":"middle","fontSize":15.5,"dx":55},"encoding":{"text":{"field":"stat"}}}
]}
],
"resolve":{"scale":{"y":"independent"}}},
{"width":250,"height":227,"title":{"text":"E","dx":-104},
"layer":[
{"layer":[
{"data":{"name":"ref"},"mark":{"type":"rule","color":"#1a1a1a","strokeWidth":2.5,"strokeDash":[2.5,4.5]},"encoding":{"y":{"field":"ref","type":"quantitative"}}},
{"data":{"name":"pts"},"transform":[{"filter":"datum.panel==='E'"}],"mark":{"type":"point","filled":true,"stroke":"#111111","strokeWidth":1.7,"opacity":1},
"encoding":{"x":{"field":"group","type":"nominal","title":null,"scale":{"domain":["Veh Sham","Veh Ovx","pAkk Sham","pAkk Ovx"],"paddingInner":0,"paddingOuter":0.18}},
"xOffset":{"field":"swarm","type":"quantitative","scale":{"domain":[-5.73,5.73],"range":[0,57.3]}},
"y":{"field":"value","type":"quantitative","title":["Ctsk mRNA","(% of veh sham)"],"scale":{"domain":[0,750],"nice":false},"axis":{"values":[0,200,400,600,750],"tickCount":12,"labelOverlap":false}},
"shape":{"field":"group","type":"nominal","scale":{"domain":["Veh Sham","Veh Ovx","pAkk Sham","pAkk Ovx"],"range":["circle","circle","triangle-down","triangle-down"]},"legend":null},
"fill":{"field":"group","type":"nominal","scale":{"domain":["Veh Sham","Veh Ovx","pAkk Sham","pAkk Ovx"],"range":["#ffffff","#111111","#ffffff","#111111"]},"legend":null},
"size":{"field":"group","type":"ordinal","scale":{"domain":["Veh Sham","Veh Ovx","pAkk Sham","pAkk Ovx"],"range":[80,80,110,110]},"legend":null}}},
{"data":{"name":"summ"},"transform":[{"filter":"datum.panel==='E'"}],"mark":{"type":"rule","color":"#111111","strokeWidth":2.2},"encoding":{"x":{"field":"group","type":"nominal","title":null},"y":{"field":"lo","type":"quantitative"},"y2":{"field":"hi"}}},
{"data":{"name":"summ"},"transform":[{"filter":"datum.panel==='E'"}],"mark":{"type":"tick","color":"#111111","size":38,"thickness":2.2},"encoding":{"x":{"field":"group","type":"nominal","title":null},"y":{"field":"mean","type":"quantitative"}}},
{"data":{"name":"summ"},"transform":[{"filter":"datum.panel==='E'"}],"mark":{"type":"tick","color":"#111111","size":21,"thickness":2.2},"encoding":{"x":{"field":"group","type":"nominal","title":null},"y":{"field":"lo","type":"quantitative"}}},
{"data":{"name":"summ"},"transform":[{"filter":"datum.panel==='E'"}],"mark":{"type":"tick","color":"#111111","size":21,"thickness":2.2},"encoding":{"x":{"field":"group","type":"nominal","title":null},"y":{"field":"hi","type":"quantitative"}}},
{"data":{"name":"sig"},"transform":[{"filter":"datum.panel==='E'"}],"mark":{"type":"text","fontSize":26,"fontWeight":"bold","baseline":"middle","dy":6.5,"color":"#111111"},"encoding":{"x":{"field":"group","type":"nominal","title":null},"y":{"field":"at","type":"quantitative"},"text":{"field":"label"}}}
]},
{"data":{"name":"stats"},"transform":[{"filter":"datum.panel==='E'"}],
"encoding":{"x":{"datum":"Veh Sham","type":"nominal","title":null},"y":{"field":"line","type":"quantitative","scale":{"domain":[0.796,13.0],"reverse":true,"zero":false,"nice":false},"axis":null}},
"layer":[
{"mark":{"type":"text","align":"left","baseline":"middle","fontSize":15.5,"dx":-30},"encoding":{"text":{"field":"pre"}}},
{"mark":{"type":"text","align":"left","baseline":"middle","fontSize":15.5,"dx":10.5,"fontStyle":"italic"},"encoding":{"text":{"field":"ital"}}},
{"mark":{"type":"text","align":"left","baseline":"middle","fontSize":15.5,"dx":55},"encoding":{"text":{"field":"stat"}}}
]}
],
"resolve":{"scale":{"y":"independent"}}},
{"width":250,"height":227,"title":{"text":"F","dx":-100},
"layer":[
{"layer":[
{"data":{"name":"ref"},"mark":{"type":"rule","color":"#1a1a1a","strokeWidth":2.5,"strokeDash":[2.5,4.5]},"encoding":{"y":{"field":"ref","type":"quantitative"}}},
{"data":{"name":"pts"},"transform":[{"filter":"datum.panel==='F'"}],"mark":{"type":"point","filled":true,"stroke":"#111111","strokeWidth":1.7,"opacity":1},
"encoding":{"x":{"field":"group","type":"nominal","title":null,"scale":{"domain":["Veh Sham","Veh Ovx","pAkk Sham","pAkk Ovx"],"paddingInner":0,"paddingOuter":0.18}},
"xOffset":{"field":"swarm","type":"quantitative","scale":{"domain":[-5.73,5.73],"range":[0,57.3]}},
"y":{"field":"value","type":"quantitative","title":["Col1α1 mRNA","(% of veh sham)"],"scale":{"domain":[0,500],"nice":false},"axis":{"values":[0,100,200,300,400,500],"tickCount":12,"labelOverlap":false}},
"shape":{"field":"group","type":"nominal","scale":{"domain":["Veh Sham","Veh Ovx","pAkk Sham","pAkk Ovx"],"range":["circle","circle","triangle-down","triangle-down"]},"legend":null},
"fill":{"field":"group","type":"nominal","scale":{"domain":["Veh Sham","Veh Ovx","pAkk Sham","pAkk Ovx"],"range":["#ffffff","#111111","#ffffff","#111111"]},"legend":null},
"size":{"field":"group","type":"ordinal","scale":{"domain":["Veh Sham","Veh Ovx","pAkk Sham","pAkk Ovx"],"range":[80,80,110,110]},"legend":null}}},
{"data":{"name":"summ"},"transform":[{"filter":"datum.panel==='F'"}],"mark":{"type":"rule","color":"#111111","strokeWidth":2.2},"encoding":{"x":{"field":"group","type":"nominal","title":null},"y":{"field":"lo","type":"quantitative"},"y2":{"field":"hi"}}},
{"data":{"name":"summ"},"transform":[{"filter":"datum.panel==='F'"}],"mark":{"type":"tick","color":"#111111","size":38,"thickness":2.2},"encoding":{"x":{"field":"group","type":"nominal","title":null},"y":{"field":"mean","type":"quantitative"}}},
{"data":{"name":"summ"},"transform":[{"filter":"datum.panel==='F'"}],"mark":{"type":"tick","color":"#111111","size":21,"thickness":2.2},"encoding":{"x":{"field":"group","type":"nominal","title":null},"y":{"field":"lo","type":"quantitative"}}},
{"data":{"name":"summ"},"transform":[{"filter":"datum.panel==='F'"}],"mark":{"type":"tick","color":"#111111","size":21,"thickness":2.2},"encoding":{"x":{"field":"group","type":"nominal","title":null},"y":{"field":"hi","type":"quantitative"}}},
{"data":{"name":"sig"},"transform":[{"filter":"datum.panel==='F'"}],"mark":{"type":"text","fontSize":26,"fontWeight":"bold","baseline":"middle","dy":6.5,"color":"#111111"},"encoding":{"x":{"field":"group","type":"nominal","title":null},"y":{"field":"at","type":"quantitative"},"text":{"field":"label"}}}
]},
{"data":{"name":"stats"},"transform":[{"filter":"datum.panel==='F'"}],
"encoding":{"x":{"datum":"Veh Sham","type":"nominal","title":null},"y":{"field":"line","type":"quantitative","scale":{"domain":[0.796,13.0],"reverse":true,"zero":false,"nice":false},"axis":null}},
"layer":[
{"mark":{"type":"text","align":"left","baseline":"middle","fontSize":15.5,"dx":-30},"encoding":{"text":{"field":"pre"}}},
{"mark":{"type":"text","align":"left","baseline":"middle","fontSize":15.5,"dx":10.5,"fontStyle":"italic"},"encoding":{"text":{"field":"ital"}}},
{"mark":{"type":"text","align":"left","baseline":"middle","fontSize":15.5,"dx":55},"encoding":{"text":{"field":"stat"}}}
]}
],
"resolve":{"scale":{"y":"independent"}}}
],
"config":{
"font":"Liberation Sans",
"view":{"stroke":null},
"axis":{"grid":false,"domainColor":"#1a1a1a","domainWidth":2.2,"tickColor":"#1a1a1a","tickWidth":2.2,"tickSize":7,"labelFont":"Liberation Sans","labelFontSize":17,"labelFontWeight":"bold","labelColor":"#1a1a1a","labelPadding":2,"titleFont":"Liberation Sans","titleFontSize":18,"titleFontWeight":"bold","titleColor":"#1a1a1a","labelOverlap":false,"labelBound":false},
"axisX":{"labelAngle":-45,"labelPadding":3},
"axisY":{"titlePadding":8,"titleLineHeight":21},
"title":{"anchor":"start","frame":"group","font":"Liberation Sans","fontSize":24,"fontWeight":"bold","color":"#1a1a1a","offset":-8},
"text":{"font":"Liberation Sans","color":"#222222"}
}
}
